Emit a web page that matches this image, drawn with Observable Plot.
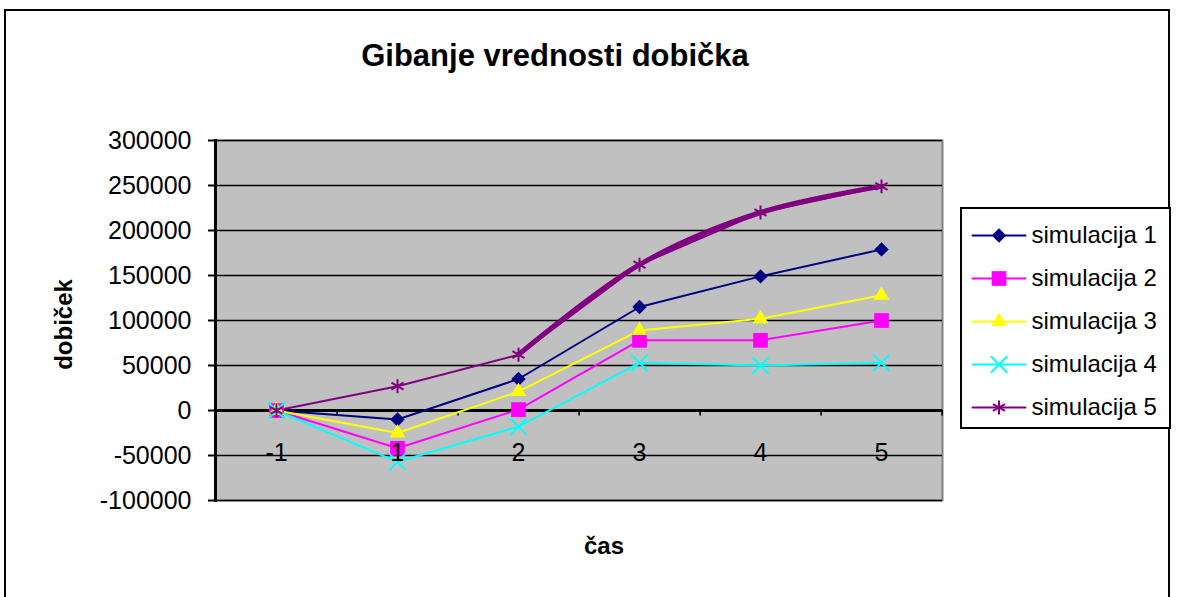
<!DOCTYPE html>
<html>
<head>
<meta charset="utf-8">
<script src="https://cdn.jsdelivr.net/npm/d3@7"></script>
<script src="https://cdn.jsdelivr.net/npm/@observablehq/plot@0.6"></script>
<style>
  html, body { margin: 0; padding: 0; background: #fff; }
  #wrap { position: relative; width: 1178px; height: 597px; overflow: hidden; font-family: "Liberation Sans", Arial, sans-serif; }
  #border { position: absolute; left: 4px; top: 9px; width: 1166px; height: 700px; border: 2px solid #000; box-sizing: border-box; }
  #chart { position: absolute; left: 0; top: 0; }
  #legend { position: absolute; left: 960px; top: 207px; width: 211px; height: 222px; border: 2px solid #000; box-sizing: border-box; background: #fff; }
  #legend svg { display: block; }
</style>
</head>
<body>
<div id="wrap">
  <div id="border"></div>
  <div id="chart"></div>
  <div id="legend"></div>
</div>
<script>
// ---- data ----
const titleText = "Gibanje vrednosti dobička";
const xLabel = "čas";
const yLabel = "dobiček";
const time = ["-1", "1", "2", "3", "4", "5"];
const seriesNames = ["simulacija 1", "simulacija 2", "simulacija 3", "simulacija 4", "simulacija 5"];
const sim1 = [0, -10000, 35000, 115000, 149000, 179000];
const sim2 = [0, -42000, 1000, 78000, 78000, 100000];
const sim3 = [0, -25000, 21000, 89000, 102000, 128000];
const sim4 = [0, -57000, -18000, 53000, 50000, 53000];
const sim5 = [0, 27000, 62000, 162000, 220000, 249000];
const yTicks = [-100000, -50000, 0, 50000, 100000, 150000, 200000, 250000, 300000];

// ---- styles ----
const colors = ["#000080", "#FF00FF", "#FFFF00", "#00FFFF", "#800080"];
const symbols = ["diamond2", "square", "triangle", "times", "asterisk"];
const symR = [6.5, 8.3, 5.8, 7.5, 6.6];
const filled = [true, true, true, false, false];

const W = 1178, H = 597;
const mL = 215, mR = 236, mT = 140, mB = 97;
const step = (W - mL - mR) / time.length;

const allSeries = [sim1, sim2, sim3, sim4, sim5];
const rows = [];
allSeries.forEach((vals, si) => vals.forEach((v, i) => rows.push({series: seriesNames[si], si, t: time[i], v})));
const sim5Thick = rows.filter(d => d.si === 4 && time.indexOf(d.t) >= 2);

const font = '"Liberation Sans", Arial, sans-serif';

const dotMarks = seriesNames.map((name, si) => Plot.dot(rows.filter(d => d.si === si), {
  x: "t", y: "v", symbol: () => symbols[si], r: symR[si],
  fill: filled[si] ? colors[si] : "none",
  stroke: filled[si] ? "none" : colors[si],
  strokeWidth: 2
}));

const chart = Plot.plot({
  width: W, height: H,
  marginLeft: mL, marginRight: mR, marginTop: mT, marginBottom: mB,
  style: {fontFamily: font, fontSize: "24px", background: "transparent", color: "#000"},
  x: {type: "point", domain: time, padding: 0.5, axis: null},
  y: {domain: [-100000, 300000], label: null},
  symbol: {type: "identity"},
  marks: [
    Plot.frame({fill: "#C0C0C0", stroke: "#808080", strokeWidth: 2}),
    Plot.ruleY(yTicks.filter(d => d !== 0), {stroke: "#000", strokeWidth: 1.6}),
    Plot.ruleY([0], {stroke: "#000", strokeWidth: 3}),
    Plot.ruleX(time, {x: d => d, y1: 0, y2: -6000, dx: step / 2, stroke: "#000", strokeWidth: 1.6}),
    ...seriesNames.map((name, si) => Plot.line(rows.filter(d => d.si === si), {
      x: "t", y: "v", stroke: colors[si], strokeWidth: 2
    })),
    Plot.line(sim5Thick, {x: "t", y: "v", stroke: colors[4], strokeWidth: 5, curve: "catmull-rom"}),
    ...dotMarks,
    Plot.frame({anchor: "left", stroke: "#000", strokeWidth: 3}),
    Plot.axisY({ticks: yTicks, tickFormat: d => String(d), tickSize: 7, tickPadding: 17, fontSize: 25, label: null, stroke: "#000", strokeWidth: 2}),
    Plot.text(time, {x: d => d, y: 0, dy: 42, text: d => d, fontSize: 25, fill: "#000"}),
    Plot.text([titleText], {frameAnchor: "top", lineAnchor: "middle", textAnchor: "middle", dx: -24, dy: -84, fontSize: 31, fontWeight: "bold", fill: "#000"}),
    Plot.text([yLabel], {frameAnchor: "left", lineAnchor: "middle", textAnchor: "middle", dx: -151, dy: 4, rotate: -90, fontSize: 24, fontWeight: "bold", fill: "#000"}),
    Plot.text([xLabel], {frameAnchor: "bottom", lineAnchor: "middle", textAnchor: "middle", dx: 25, dy: 46, fontSize: 24, fontWeight: "bold", fill: "#000"})
  ]
});
document.getElementById("chart").appendChild(chart);

// ---- legend ----
const legRows = [];
seriesNames.forEach((name, si) => { legRows.push({name, si, p: 0}); legRows.push({name, si, p: 1}); });
const legend = Plot.plot({
  width: 207, height: 218,
  marginLeft: 10, marginRight: 144, marginTop: 24, marginBottom: 19,
  style: {fontFamily: font, fontSize: "22px", background: "transparent", color: "#000"},
  x: {domain: [0, 1], axis: null},
  y: {type: "point", domain: seriesNames, padding: 0, axis: null},
  symbol: {type: "identity"},
  marks: [
    ...seriesNames.map((name, si) => Plot.line(legRows.filter(d => d.si === si), {x: "p", y: "name", stroke: colors[si], strokeWidth: 2})),
    ...seriesNames.map((name, si) => Plot.dot([name], {
      x: () => 0.5, y: d => d, symbol: () => symbols[si], r: symR[si],
      fill: filled[si] ? colors[si] : "none", stroke: filled[si] ? "none" : colors[si], strokeWidth: 2
    })),
    Plot.text(seriesNames, {x: () => 1, y: d => d, dx: 6, text: d => d, textAnchor: "start", fontSize: 24, fill: "#000"})
  ]
});
document.getElementById("legend").appendChild(legend);
</script>
</body>
</html>
